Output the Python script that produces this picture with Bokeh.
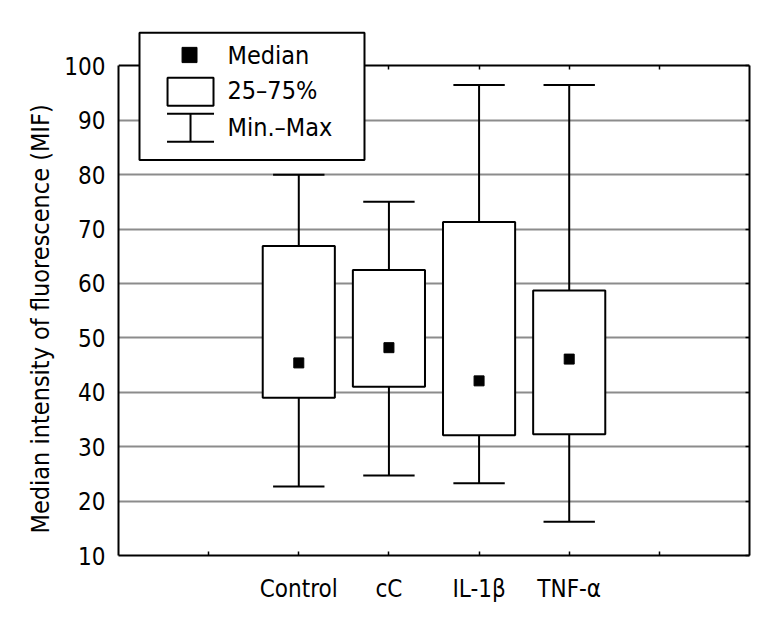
from bokeh.plotting import figure
from bokeh.models import (LinearAxis, FixedTicker, Range1d, Label, BoxAnnotation,
                          Arrow, TeeHead, ColumnDataSource, Title)
from bokeh.embed import file_html
from bokeh.resources import INLINE

# ---- data ----
categories = ["Control", "cC", "IL-1β", "TNF-α"]
positions = [2, 3, 4, 5]
minimum = [22.7, 24.7, 23.3, 16.2]
q1 = [39.0, 41.0, 32.1, 32.3]
median = [45.4, 48.2, 42.1, 46.1]
q3 = [66.9, 62.5, 71.3, 58.7]
maximum = [80.0, 75.0, 96.5, 96.5]
y_ticks = [10, 20, 30, 40, 50, 60, 70, 80, 90, 100]
x_ticks = [1, 2, 3, 4, 5, 6]
legend_labels = ["Median", "25–75%", "Min.–Max"]
y_title = "Median intensity of fluorescence (MIF)"

FONT = "DejaVu Sans Condensed, Roboto, sans-serif"
FS = "25px"
BOX_W = 0.8
CAP_W = 0.57
Y_LO, Y_HI, Y_TOP = 10, 100, 106.5

p = figure(width=763, height=635, output_backend="svg", toolbar_location=None,
           x_range=Range1d(0, 7), y_range=Range1d(Y_LO, Y_TOP),
           min_border_left=118, min_border_right=14, min_border_top=30,
           min_border_bottom=80, x_axis_location=None, y_axis_location=None)
p.outline_line_color = None
p.background_fill_color = "white"
p.border_fill_color = "white"

src = ColumnDataSource(dict(x=positions, lo=minimum, q1=q1, med=median, q3=q3, hi=maximum,
                            xl=[v - CAP_W / 2 for v in positions],
                            xr=[v + CAP_W / 2 for v in positions]))

# whiskers
p.segment(x0="x", y0="lo", x1="x", y1="q1", source=src, line_color="black", line_width=2)
p.segment(x0="x", y0="q3", x1="x", y1="hi", source=src, line_color="black", line_width=2)
p.segment(x0="xl", y0="lo", x1="xr", y1="lo", source=src, line_color="black", line_width=2)
p.segment(x0="xl", y0="hi", x1="xr", y1="hi", source=src, line_color="black", line_width=2)
# boxes
p.vbar(x="x", bottom="q1", top="q3", width=BOX_W, source=src, fill_color="white",
       line_color="black", line_width=2)
# medians
p.scatter(x="x", y="med", source=src, marker="square", size=10, fill_color="black",
          line_color="black")

# ---- axes ----
def style(ax):
    ax.axis_line_color = "black"
    ax.axis_line_width = 2
    ax.minor_tick_line_color = None
    ax.major_tick_line_color = "black"
    ax.major_tick_line_width = 1.5
    ax.major_label_text_font = FONT
    ax.major_label_text_font_size = FS
    ax.major_label_text_color = "black"

def blank(ax, ticks):
    ax.major_label_overrides = {t: "" for t in ticks}
    ax.major_label_standoff = 0
    ax.major_tick_out = 0
    ax.major_tick_in = 4

left = LinearAxis(ticker=FixedTicker(ticks=y_ticks), bounds=(Y_LO, Y_HI))
style(left)
left.major_label_text_font_size = "24px"
left.major_tick_out = 0
left.major_tick_in = 0
left.major_label_standoff = 13
p.add_layout(left, "left")

p.add_layout(Title(text=y_title, align="left", offset=22, text_font=FONT,
                   text_font_size="25px", text_font_style="normal",
                   text_color="black", standoff=14), "left")

right = LinearAxis(ticker=FixedTicker(ticks=y_ticks), bounds=(Y_LO, Y_HI))
style(right)
blank(right, y_ticks)
p.add_layout(right, "right")

bottom = LinearAxis(ticker=FixedTicker(ticks=x_ticks))
style(bottom)
bottom.major_label_text_font_size = "24px"
bottom.major_tick_out = 0
bottom.major_tick_in = 4
bottom.major_label_standoff = 19
bottom.major_label_overrides = {1: "", 6: "", **{pos: c for pos, c in zip(positions, categories)}}
p.add_layout(bottom, "below")

top = LinearAxis(ticker=FixedTicker(ticks=x_ticks), fixed_location=Y_HI)
style(top)
blank(top, x_ticks)
p.add_layout(top, "above")

p.xgrid.visible = False
p.ygrid.ticker = FixedTicker(ticks=y_ticks[1:-1])
p.ygrid.grid_line_color = "#8c8c8c"
p.ygrid.grid_line_width = 2

# ---- legend (drawn as annotations) ----
p.add_layout(BoxAnnotation(left=0.233, right=2.729, bottom=82.7, top=106.1,
                           fill_color="white", fill_alpha=1, line_color="black",
                           line_width=2, line_alpha=1, level="overlay"))
p.add_layout(BoxAnnotation(left=0.705, right=0.871, bottom=100.6, top=103.4,
                           fill_color="black", fill_alpha=1, line_color="black",
                           line_alpha=1, line_width=1, level="overlay"))
p.add_layout(BoxAnnotation(left=0.544, right=1.054, bottom=92.65, top=97.8,
                           fill_color="white", fill_alpha=1, line_color="black",
                           line_width=2, line_alpha=1, level="overlay"))
p.add_layout(Arrow(start=TeeHead(size=47, line_width=2, line_color="black"),
                   end=TeeHead(size=47, line_width=2, line_color="black"),
                   x_start=0.799, y_start=91.18, x_end=0.799, y_end=86.04,
                   line_width=2, line_color="black", level="overlay"))
for txt, yy in zip(legend_labels, [101.84, 95.4, 88.6]):
    p.add_layout(Label(x=1.209, y=yy, text=txt, text_font=FONT, text_font_size=FS,
                       text_baseline="middle", text_align="left", text_color="black",
                       level="overlay"))

open("out.html", "w").write(file_html(p, INLINE))
